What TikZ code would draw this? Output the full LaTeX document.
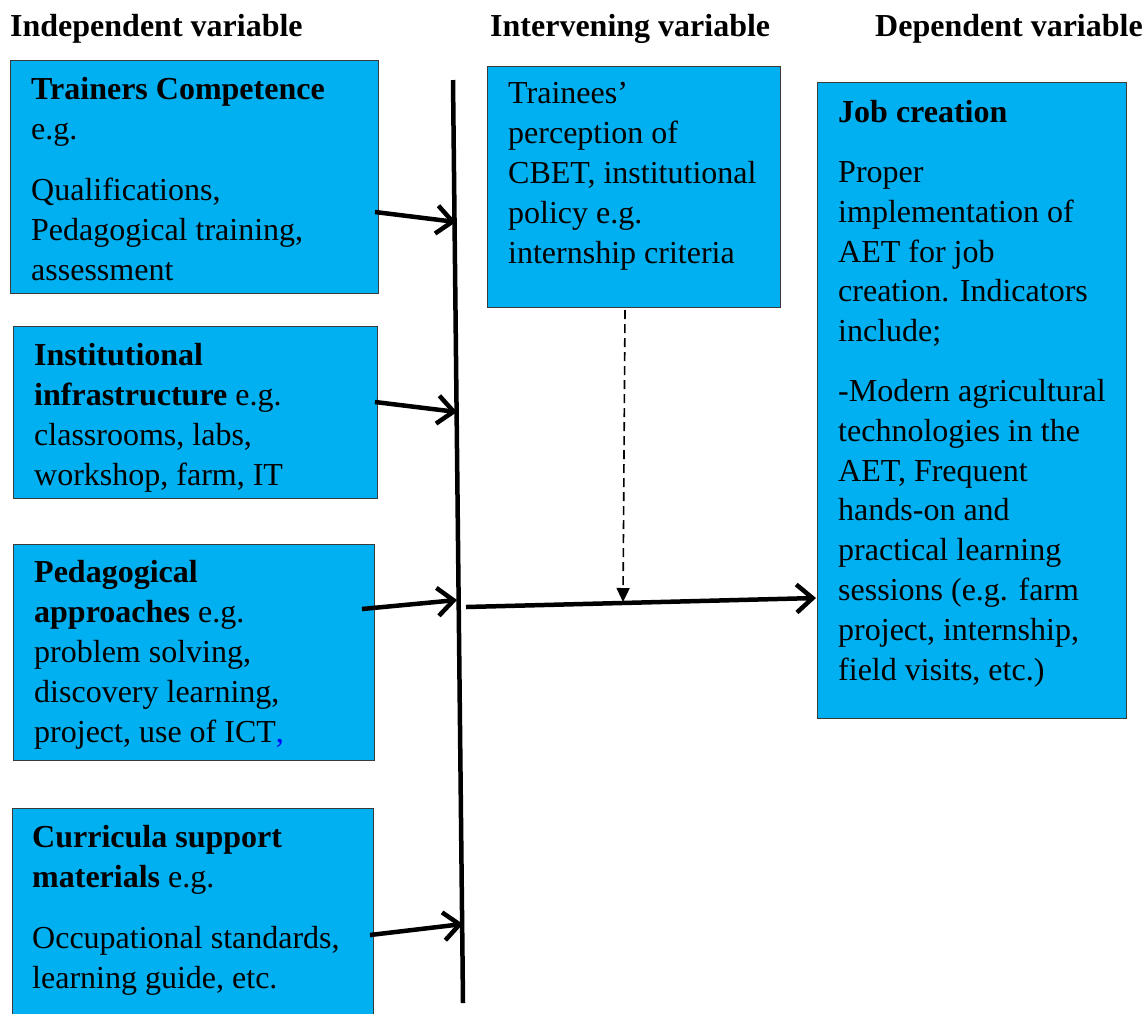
\documentclass[tikz,border=0pt]{standalone}
\usepackage{fontspec}
\setmainfont{Liberation Serif}
\usetikzlibrary{arrows.meta}
\definecolor{boxblue}{HTML}{00B0F0}
\definecolor{boxedge}{HTML}{3A3A3A}
\begin{document}
\begin{tikzpicture}[x=1pt,y=-1pt,
  box/.style={draw=boxedge, line width=1pt, fill=boxblue, anchor=north west, inner sep=0pt, outer sep=0pt},
  txt/.style={anchor=base west, align=left, inner sep=0pt, font=\fontsize{32}{39.8}\selectfont},
  hdr/.style={anchor=base west, inner sep=0pt, font=\fontsize{32}{39.8}\selectfont\bfseries},
  arr/.style={line width=4.5pt, -{Straight Barb[length=16pt,width=28pt]}},
  vline/.style={line width=4.5pt},
  dasharr/.style={line width=1.6pt, dash pattern=on 9pt off 5pt, -{Triangle[length=14pt,width=13pt]}}]
\useasboundingbox (0,0) rectangle (1145,1013);
\clip (0,0) rectangle (1145,1013);
\fill[white] (0,0) rectangle (1145,1013);

% headers
\node[hdr] (h1) at (10,36) {Independent variable};
\node[hdr] (h2) at (490,36) {Intervening variable};
\node[hdr] (h3) at (875,36) {Dependent variable};

% boxes
\node[box, minimum width=368pt, minimum height=233pt] (b1) at (10,60) {};
\node[box, minimum width=364pt, minimum height=172pt] (b2) at (13,326) {};
\node[box, minimum width=361pt, minimum height=216pt] (b3) at (13,544) {};
\node[box, minimum width=361pt, minimum height=230pt] (b4) at (12,808) {};
\node[box, minimum width=293pt, minimum height=241pt] (bi) at (487,66) {};
\node[box, minimum width=309pt, minimum height=636pt] (bd) at (817,82) {};

% texts (anchored at the baseline of the last line)
\node[txt] (t1) at (31,280) {\textbf{Trainers Competence}\\e.g.\\[21pt]Qualifications,\\Pedagogical training,\\assessment};
\node[txt] (t2) at (34,485) {\textbf{Institutional}\\\textbf{infrastructure} e.g.\\classrooms, labs,\\workshop, farm, IT};
\node[txt] (t3) at (34,742) {\textbf{Pedagogical}\\\textbf{approaches} e.g.\\problem solving,\\discovery learning,\\project, use of ICT\textcolor{blue}{,}};
\node[txt] (t4) at (32,988) {\textbf{Curricula support}\\\textbf{materials} e.g.\\[21pt]Occupational standards,\\learning guide, etc.};
\node[txt] (ti) at (508,263) {Trainees’\\perception of\\CBET, institutional\\policy e.g.\\internship criteria};
\node[txt] (td) at (838,680) {\textbf{Job creation}\\[20pt]Proper\\implementation of\\AET for job\\creation. Indicators\\include;\\[20pt]-Modern agricultural\\technologies in the\\AET, Frequent\\hands-on and\\practical learning\\sessions (e.g. farm\\project, internship,\\field visits, etc.)};

% vertical line
\coordinate (vtop) at (453,80);
\coordinate (vbot) at (463,1003);
\draw[vline] (vtop) -- (vbot);

% arrow coordinates
\coordinate (a1s) at (375,212);
\coordinate (a1e) at (456,222);
\coordinate (a2s) at (375,402);
\coordinate (a2e) at (457,412);
\coordinate (a3s) at (362,609);
\coordinate (a3e) at (457,600);
\coordinate (a4s) at (370,935);
\coordinate (a4e) at (463,924);
\coordinate (a5s) at (466,607);
\coordinate (a5e) at (816,598);
\coordinate (ds) at (625,310);
\coordinate (de) at (623,602);

\draw[arr] (a1s) -- (a1e);
\draw[arr] (a2s) -- (a2e);
\draw[arr] (a3s) -- (a3e);
\draw[arr] (a4s) -- (a4e);
\draw[arr] (a5s) -- (a5e);
\draw[dasharr] (ds) -- (de);
\end{tikzpicture}
\end{document}
